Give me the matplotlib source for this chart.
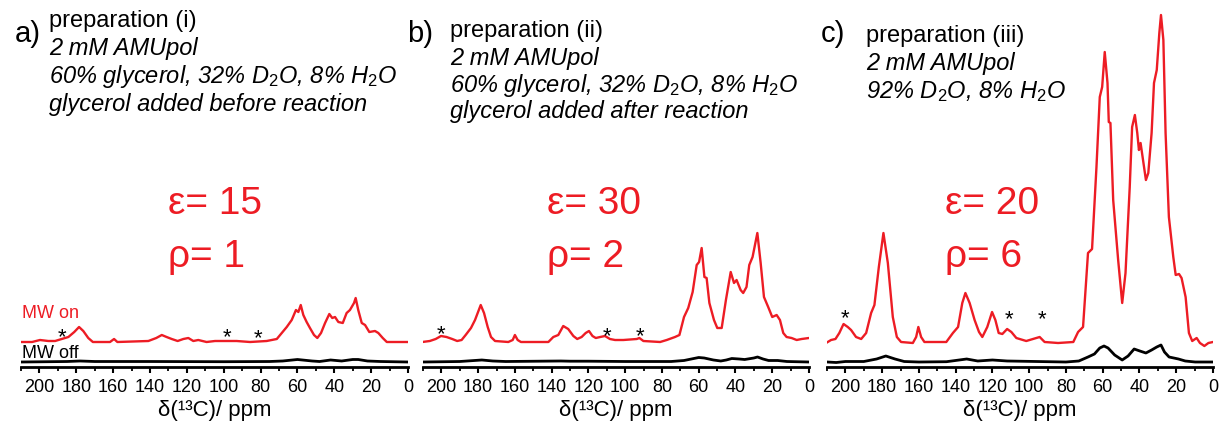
import matplotlib.pyplot as plt
from matplotlib.ticker import MultipleLocator

plt.rcParams['font.family'] = ['Liberation Sans', 'DejaVu Sans']
plt.rcParams['mathtext.fontset'] = 'custom'
plt.rcParams['mathtext.rm'] = 'Liberation Sans'
plt.rcParams['mathtext.it'] = 'Liberation Sans:italic'

RED = '#ed1c24'
W, H = 1219, 425

# ---- panel a, preparation (i) ----
ppm_a_on = [210, 204, 199.7, 195.2, 191.5, 187.9, 184.3, 181.1, 178.5, 176.2, 173.5, 171,
            161.7, 159.5, 157.7, 140.9, 136.6, 133.6, 131, 128.2, 125, 121.9, 119.2, 116.5,
            113.8, 109.3, 104.7, 98.4, 93, 85.7, 76.7, 71.2, 68.5, 65.8, 63.1, 60.8, 59.5,
            58.2, 56.8, 55, 53.2, 51, 49.2, 47.2, 45, 42.7, 41.1, 39.6, 37.8, 35.4, 33.3,
            31.5, 29.3, 28.4, 27, 25.1, 23.3, 21, 17.9, 16.1, 13.7, 11.5, 6.1, 0]
int_a_on = [0, 0, 2, 1, 1, 3, 5, 10, 15, 11, 4, 0,
            0, 3, 0, 1, 4, 7, 5, 3, 1, 3, 4, 1,
            2, 0, 1, 1, 1, 0, 1, 3, 9, 15, 22, 32, 30,
            37, 27, 20, 14, 7, 4, 9, 19, 28, 24, 25, 20, 19, 29,
            32, 39, 44, 32, 19, 17, 10, 11, 9, 4, 0, 0, 0]
ppm_a_off = [210, 185, 178, 170, 140, 100, 75, 68, 60, 52, 48, 42, 36, 30, 27, 22, 15, 0]
int_a_off = [0, 0.5, 1, 0.5, 0.5, 0.3, 0.5, 1, 2.5, 1, 0.5, 2, 1, 2.5, 2.5, 1, 0.5, 0]

# ---- panel b, preparation (ii) ----
ppm_b_on = [210.4, 206.3, 203.1, 200.2, 197.2, 194.1, 191.4, 189, 186.8, 183.9, 181.7, 178.6,
            176.8, 174.8, 173, 170.8, 163.6, 161.2, 160, 158.5, 156.7, 141.8, 139.1, 136.4,
            133.7, 131, 128.2, 126.1, 123.7, 121.5, 119.7, 117.8, 116, 113.6, 111, 108.3,
            105.5, 101, 93.7, 92.3, 90.1, 81, 77.4, 72.9, 70.5, 68, 65.7, 63.3, 61.1, 59.8,
            58.4, 56.9, 55.7, 54.2, 51.7, 49.9, 47.5, 45.2, 42.6, 40.8, 39.4, 37.2, 35.8, 34,
            32.5, 30.7, 28.1, 26.3, 24.5, 22.2, 20, 17.6, 15.8, 14, 12.2, 9.5, 6.7, 4, 0]
int_b_on = [0, 1, 3, 6, 5, 3, 1, 2, 7, 14, 22, 37,
            29, 15, 5, 1, 0, 2, 7, 2, 0, 0, 5, 7,
            16, 13, 6, 3, 5, 9, 11, 6, 4, 5, 6, 3,
            2, 2, 3, 4, 1, 0, 2, 5, 7, 25, 34, 50, 77, 80,
            94, 65, 64, 39, 22, 14, 14, 42, 70, 59, 62, 52, 49, 55,
            77, 85, 109, 79, 45, 35, 25, 27, 22, 9, 5, 4, 2, 3, 4]
ppm_b_off = [210, 190, 182, 178, 172, 165, 135, 130, 120, 100, 75, 68, 64, 60, 57, 52, 48,
             45, 42, 38, 35, 30, 28, 25, 22, 17, 12, 0]
int_b_off = [0, 0.5, 1.5, 2, 1, 0.5, 1, 0.8, 0.8, 0.5, 0.5, 1.5, 3, 4.5, 4, 2, 1,
             2, 3.5, 3, 2.5, 4, 5, 3, 1.5, 1.5, 0.5, 0]

# ---- panel c, preparation (iii) ----
ppm_c_on = [210.5, 207.8, 205.4, 203.3, 201, 198.7, 196.9, 194.2, 191.4, 188.7, 186, 184.2,
            181.8, 179.3, 176.9, 174.2, 172, 169.7, 163.3, 161.5, 160.3, 158.8, 157, 145.1,
            141.5, 138.7, 136.4, 134.7, 132.4, 129.7, 127.3, 125.5, 122.8, 120.2, 118.4, 116.6,
            114.6, 112, 109.7, 107, 101.6, 94.3, 91.6, 84.3, 76, 73.4, 70.7, 68, 65.8, 63.4,
            61.6, 60.3, 58.9, 57.4, 56.7, 55.8, 54.3, 51.6, 49.4, 47.6, 45.3, 44, 42.5, 41.2,
            40.3, 39.4, 38.3, 36.5, 35.2, 33.4, 32.1, 30.6, 29.2, 28.3, 27, 25.8, 24, 21.6,
            20.3, 18.5, 17.1, 14.9, 13.1, 11.3, 8.9, 7.1, 4.7, 2.5, 0]
int_c_on = [-1, 2, 3, 9, 18, 15, 12, 5, 3, 9, 29, 37,
            75, 109, 79, 25, 5, 0, -1, 5, 15, 5, 0, 0,
            9, 15, 39, 49, 39, 22, 10, 5, 15, 30, 22, 9,
            8, 13, 10, 4, 1, 5, 0, -1, 0, 10, 15, 89, 93, 175,
            245, 255, 290, 259, 220, 219, 142, 82, 39, 69, 155, 215, 227, 209,
            192, 199, 185, 162, 169, 209, 259, 272, 309, 327, 302, 209, 125, 85,
            67, 68, 64, 45, 9, 1, 4, -1, -4, -1, 0]
ppm_c_off = [210, 205, 200, 190, 183, 178, 173, 168, 160, 145, 134, 128, 120, 112, 80, 73,
             68, 64.5, 61.6, 59.3, 57.1, 53.5, 49.4, 46.2, 42.9, 39.8, 36.5, 33.4, 30.6, 28.3,
             26.4, 23.9, 18.8, 15.1, 9.7, 0]
int_c_off = [0, -0.5, 0.5, 0.5, 3, 6, 3, 0.5, 0, 0.3, 3, 1, 2, 1, 0, 1,
             5, 8, 14, 16, 14, 7, 2, 6, 13, 11, 9, 12, 15, 17,
             10, 5, 3, 1, 0, 0]

# asterisks (ppm, centre height in px above the axis)
stars_a = [(188, 36), (98, 36), (81.5, 35)]
stars_b = [(200, 39), (110, 37), (92, 37)]
stars_c = [(200, 55), (111, 54), (93, 54)]

panels = [
    dict(left=21, right=408, on=(ppm_a_on, int_a_on), off=(ppm_a_off, int_a_off),
         stars=stars_a),
    dict(left=423, right=809, on=(ppm_b_on, int_b_on), off=(ppm_b_off, int_b_off),
         stars=stars_b),
    dict(left=827, right=1213, on=(ppm_c_on, int_c_on), off=(ppm_c_off, int_c_off),
         stars=stars_c),
]

fig = plt.figure(figsize=(W / 100, H / 100), dpi=100)

AX_BOTTOM, AX_TOP = 367, 8
ON_OFFSET, OFF_OFFSET = 25, 5

axes = []
for p in panels:
    ax = fig.add_axes([p['left'] / W, (H - AX_BOTTOM) / H,
                       (p['right'] - p['left']) / W, (AX_BOTTOM - AX_TOP) / H])
    ax.patch.set_alpha(0)
    x, y = p['on']
    ax.plot(x, [v + ON_OFFSET for v in y], color=RED, lw=1.7, solid_joinstyle='round')
    x, y = p['off']
    ax.plot(x, [v + OFF_OFFSET for v in y], color='black', lw=2.0)
    for sx, sy in p['stars']:
        ax.text(sx, sy - 12, '*', fontsize=16, ha='center', va='baseline')
    ax.set_xlim(210, 0)
    ax.set_ylim(0, AX_BOTTOM - AX_TOP)
    for s in ['top', 'left', 'right']:
        ax.spines[s].set_visible(False)
    ax.spines['bottom'].set_linewidth(2.0)
    ax.set_yticks([])
    ax.xaxis.set_major_locator(MultipleLocator(20))
    ax.xaxis.set_minor_locator(MultipleLocator(10))
    ax.tick_params(axis='x', which='major', direction='out', length=4.5, width=1.5,
                   labelsize=13, pad=4)
    ax.tick_params(axis='x', which='minor', direction='out', length=3, width=1.3)
    ax.set_xlabel('δ(¹³C)/ ppm', fontsize=16, labelpad=3)
    axes.append(ax)

# MW on / MW off labels
axes[0].text(209.5, 53, 'MW on', color=RED, fontsize=13, ha='left', va='center')
axes[0].text(209.5, 13, 'MW off', color='black', fontsize=13, ha='left', va='center')


def ftext(x, y, s, **kw):
    fig.text(x / W, 1 - y / H, s, va='baseline', **kw)


# panel headers
ftext(15, 42, 'a)', fontsize=21)
ftext(49, 27, 'preparation (i)', fontsize=17)
ftext(49, 55, '2 mM AMUpol', fontsize=17, style='italic')
ftext(49, 83, '60% glycerol, 32% D$_2$O, 8% H$_2$O', fontsize=17, style='italic')
ftext(49, 111, 'glycerol added before reaction', fontsize=17, style='italic')

ftext(407, 42, 'b)', fontsize=21)
ftext(450, 37, 'preparation (ii)', fontsize=17)
ftext(450, 65, '2 mM AMUpol', fontsize=17, style='italic')
ftext(450, 92, '60% glycerol, 32% D$_2$O, 8% H$_2$O', fontsize=17, style='italic')
ftext(450, 118, 'glycerol added after reaction', fontsize=17, style='italic')

ftext(821, 42, 'c)', fontsize=21)
ftext(866, 42, 'preparation (iii)', fontsize=17)
ftext(866, 70, '2 mM AMUpol', fontsize=17, style='italic')
ftext(866, 98, '92% D$_2$O, 8% H$_2$O', fontsize=17, style='italic')

# enhancement factors
for x, eps, rho in [(168, '15', '1'), (547, '30', '2'), (945, '20', '6')]:
    ftext(x, 214, 'ε= ' + eps, fontsize=28, color=RED)
    ftext(x, 267, 'ρ= ' + rho, fontsize=28, color=RED)

fig.savefig('out.png', dpi=100)
